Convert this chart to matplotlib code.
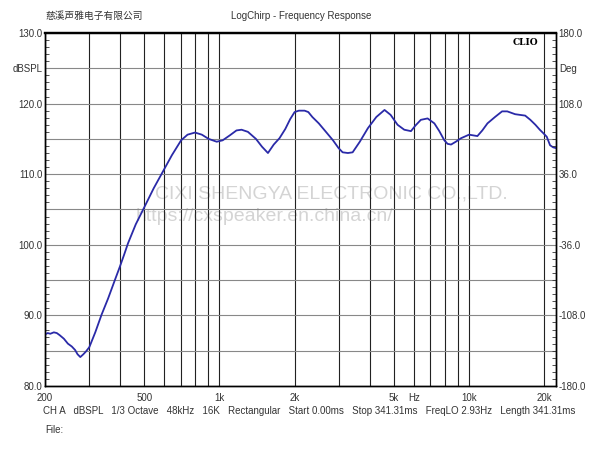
import numpy as np
import matplotlib.pyplot as plt
from matplotlib.ticker import FixedLocator, MultipleLocator

plt.rcParams['font.family'] = ['Liberation Sans', 'Noto Sans CJK SC', 'DejaVu Sans']

# frequency response
freq = [200, 205, 210, 217, 223, 229, 238, 247, 256, 264, 270, 277, 285, 292,
        301, 318, 337, 358, 381, 399, 415, 430, 462, 498, 545, 594, 645, 702,
        745, 798, 850, 905, 975, 1030, 1100, 1170, 1226, 1300, 1400, 1480,
        1564, 1650, 1740, 1835, 1920, 2000, 2080, 2193, 2270, 2356, 2500, 2670,
        2850, 3000, 3115, 3270, 3416, 3650, 3930, 4250, 4585, 4850, 5170, 5500,
        5850, 6100, 6410, 6820, 7260, 7600, 7960, 8200, 8470, 8850, 9290,
        10000, 10800, 11300, 11850, 12700, 13560, 14220, 15290, 16000, 16780,
        17600, 18440, 19200, 19850, 20480, 21110, 21740, 22300]
spl = [87.3, 87.5, 87.4, 87.6, 87.5, 87.2, 86.7, 86.0, 85.6, 85.1, 84.5, 84.1,
       84.5, 84.9, 85.5, 87.6, 90.1, 92.4, 95.0, 96.9, 98.6, 100.2, 102.9,
       105.2, 108.0, 110.4, 112.7, 114.8, 115.6, 115.9, 115.6, 115.0, 114.6,
       114.8, 115.5, 116.2, 116.3, 116.0, 115.0, 113.9, 113.0, 114.2, 115.1,
       116.4, 117.8, 118.8, 119.0, 119.0, 118.8, 118.1, 117.2, 116.0, 114.8,
       113.7, 113.1, 113.0, 113.1, 114.6, 116.5, 118.1, 119.1, 118.4, 117.0,
       116.3, 116.1, 116.9, 117.7, 117.9, 117.2, 116.1, 114.8, 114.3, 114.2,
       114.6, 115.1, 115.6, 115.4, 116.2, 117.2, 118.1, 118.9, 118.9, 118.5,
       118.4, 118.3, 117.7, 117.0, 116.3, 115.8, 115.3, 114.1, 113.8, 113.7]

grid_freqs = [300, 400, 500, 600, 700, 800, 900, 1000, 2000, 3000, 4000, 5000,
              6000, 7000, 8000, 9000, 10000, 20000]
x_ticks = [200, 500, 1000, 2000, 5000, 6000, 10000, 20000]
x_labels = ['200', '500', '1k', '2k', '5k', 'Hz', '10k', '20k']
y_ticks = [80, 85, 90, 95, 100, 105, 110, 115, 120, 125, 130]
y_labels = ['80.0', '', '90.0', '', '100.0', '', '110.0', '', '120.0', 'dBSPL', '130.0']
deg_ticks = [-180, -108, -36, 36, 108, 144, 180]
deg_labels = ['-180.0', '-108.0', '-36.0', '36.0', '108.0', 'Deg', '180.0']

fig = plt.figure(figsize=(6, 4.5), dpi=100)
ax = fig.add_axes([45/600, 1-386/450, 511/600, 353/450])

ax.set_xscale('log')
ax.set_xlim(200, 22300)
ax.set_ylim(80, 130)

ax.set_xticks(x_ticks, x_labels)
ax.xaxis.set_minor_locator(FixedLocator(grid_freqs))
ax.xaxis.set_minor_formatter(plt.NullFormatter())
ax.grid(which='both', axis='x', color='#222222', lw=0.8)

ax.set_yticks(y_ticks, y_labels)
ax.yaxis.set_minor_locator(MultipleLocator(1))
ax.grid(which='major', axis='y', color='#888888', lw=0.8)

ax.tick_params(which='both', direction='in', labelsize=7, colors='#333333')
ax.tick_params(axis='x', which='both', length=0, pad=5)
ax.tick_params(axis='y', which='major', length=0, pad=2)
ax.tick_params(axis='y', which='minor', length=3, width=0.6)

ax2 = ax.twinx()
ax2.set_ylim(-180, 180)
ax2.set_yticks(deg_ticks, deg_labels)
ax2.yaxis.set_minor_locator(MultipleLocator(7.2))
ax2.tick_params(which='both', direction='in', labelsize=7, colors='#333333')
ax2.tick_params(which='major', length=0, pad=2)
ax2.tick_params(which='minor', length=3, width=0.6)

for a in (ax, ax2):
    for s in a.spines.values():
        s.set_color('black')
        s.set_linewidth(1.0)
    a.spines['top'].set_linewidth(1.6)

# watermark
ax.text(0.56, 0.545, 'CIXI SHENGYA ELECTRONIC CO.,LTD.', transform=ax.transAxes,
        ha='center', va='center', fontsize=14, color='#d4d4d4', zorder=1)
ax.text(0.43, 0.48, 'https://cxspeaker.en.china.cn/', transform=ax.transAxes,
        ha='center', va='center', fontsize=14, color='#d4d4d4', zorder=1)

ax.plot(freq, spl, color='#2a2aa8', lw=1.3, zorder=3)

ax.text(0.965, 0.985, 'CLIO', transform=ax.transAxes, ha='right', va='top',
        fontsize=6.5, fontweight='bold', family='DejaVu Serif')

fig.text(45/600, 1-16/450, '慈溪声雅电子有限公司', fontsize=7, color='#333333',
         va='center', family=['Noto Sans CJK SC'])
fig.text(301/600, 1-16/450, 'LogChirp - Frequency Response', fontsize=7,
         color='#333333', ha='center', va='center')
fig.text(43/600, 1-411/450,
         'CH A   dBSPL   1/3 Octave   48kHz   16K   Rectangular   Start 0.00ms'
         '   Stop 341.31ms   FreqLO 2.93Hz   Length 341.31ms',
         fontsize=7, color='#333333', va='center')
fig.text(45/600, 1-430/450, 'File:', fontsize=7, color='#333333', va='center')

fig.savefig('out.png', dpi=100)
